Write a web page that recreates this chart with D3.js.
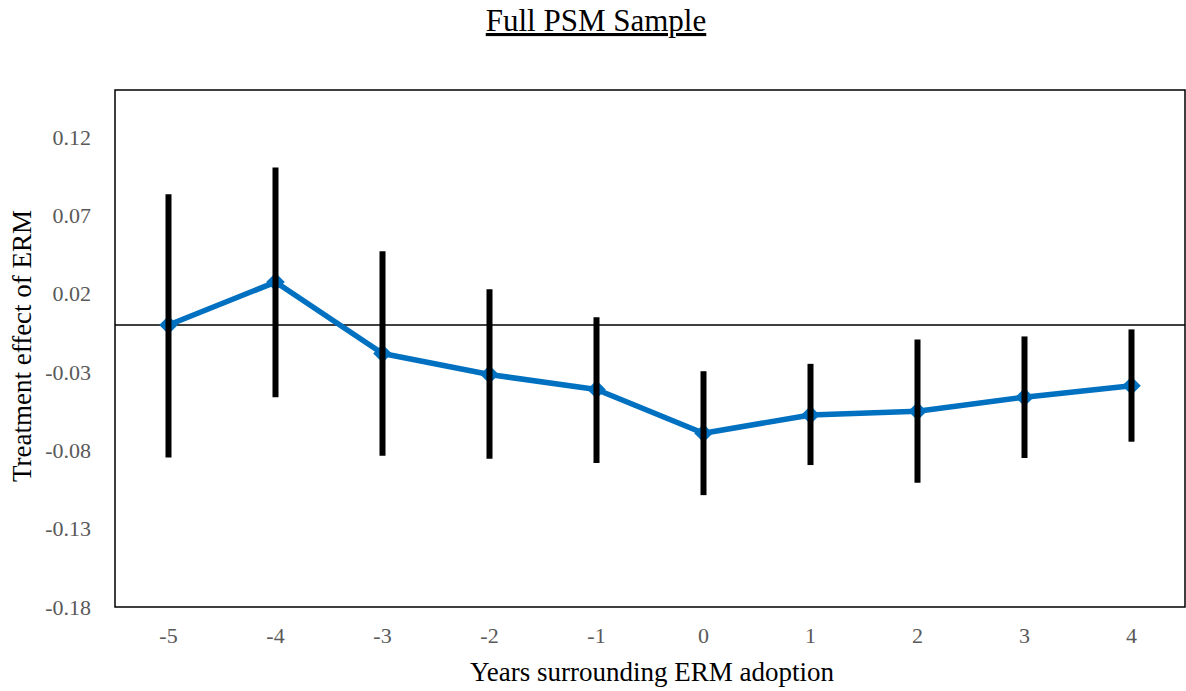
<!DOCTYPE html>
<html><head><meta charset="utf-8">
<script src="https://cdn.jsdelivr.net/npm/d3@7"></script>
<style>body{margin:0;background:#fff}</style>
</head><body>
<svg id="chart" width="1186" height="691"></svg>
<script>
const years = ["-5","-4","-3","-2","-1","0","1","2","3","4"];
const effect = [0.000, 0.0274, -0.0182, -0.0316, -0.0412, -0.0691, -0.0574, -0.0551, -0.0461, -0.0388];
const upper  = [0.0835, 0.1006, 0.0471, 0.0228, 0.0050, -0.0295, -0.0248, -0.0092, -0.0073, -0.0028];
const lower  = [-0.0845, -0.0461, -0.0834, -0.0853, -0.0881, -0.1086, -0.0894, -0.1007, -0.0849, -0.0745];
const yTicks = [0.12, 0.07, 0.02, -0.03, -0.08, -0.13, -0.18];

const svg = d3.select("#chart");
const font = "Liberation Serif, Times New Roman, serif";
const L = 115, R = 1185, T = 90, B = 607;

const x = d3.scaleBand().domain(years).range([L, R]);
const y = d3.scaleLinear().domain([-0.18, 0.15]).range([B, T]);

svg.append("rect").attr("x", L).attr("y", T).attr("width", R - L).attr("height", B - T)
  .attr("fill", "none").attr("stroke", "#000").attr("stroke-width", 1.5);

const yAxis = d3.axisLeft(y).tickValues(yTicks).tickSize(0).tickPadding(24)
  .tickFormat(d => d3.format(".2f")(d).replace("\u2212", "-"));
const gy = svg.append("g").attr("transform", `translate(${L},0)`).call(yAxis);
gy.select(".domain").remove();
gy.selectAll("text").style("font-family", font).style("font-size", "22px").attr("fill", "#595959");

const xAxis = d3.axisBottom(x).tickSize(0).tickPadding(20);
const gx = svg.append("g").attr("transform", `translate(0,${B})`).call(xAxis);
gx.select(".domain").remove();
gx.selectAll("text").style("font-family", font).style("font-size", "22px").attr("fill", "#595959");

svg.append("line").attr("x1", L).attr("x2", R).attr("y1", y(0)).attr("y2", y(0))
  .attr("stroke", "#000").attr("stroke-width", 1.5);

const cx = d => x(d) + x.bandwidth() / 2;
const pts = years.map((d, i) => ({k: d, v: effect[i], hi: upper[i], lo: lower[i]}));

svg.append("path").datum(pts)
  .attr("d", d3.line().x(d => cx(d.k)).y(d => y(d.v)))
  .attr("fill", "none").attr("stroke", "#0070C0").attr("stroke-width", 5.5)
  .attr("stroke-linejoin", "round");

svg.selectAll(".mk").data(pts).join("path")
  .attr("transform", d => `translate(${cx(d.k)},${y(d.v)})`)
  .attr("d", d3.symbol().type(d3.symbolDiamond2).size(220))
  .attr("fill", "#0070C0");

svg.selectAll(".eb").data(pts).join("line")
  .attr("x1", d => cx(d.k)).attr("x2", d => cx(d.k))
  .attr("y1", d => y(d.hi)).attr("y2", d => y(d.lo))
  .attr("stroke", "#000").attr("stroke-width", 6);

svg.append("text").attr("x", 596).attr("y", 31).attr("text-anchor", "middle")
  .style("font-family", font).style("font-size", "31px").attr("fill", "#000")
  .attr("text-decoration", "underline").text("Full PSM Sample");

svg.append("text").attr("x", 652).attr("y", 681).attr("text-anchor", "middle")
  .style("font-family", font).style("font-size", "27px").attr("fill", "#000")
  .text("Years surrounding ERM adoption");
svg.append("text").attr("transform", `translate(31,346) rotate(-90)`).attr("text-anchor", "middle")
  .style("font-family", font).style("font-size", "27px").attr("fill", "#000")
  .text("Treatment effect of ERM");
</script>
</body></html>
